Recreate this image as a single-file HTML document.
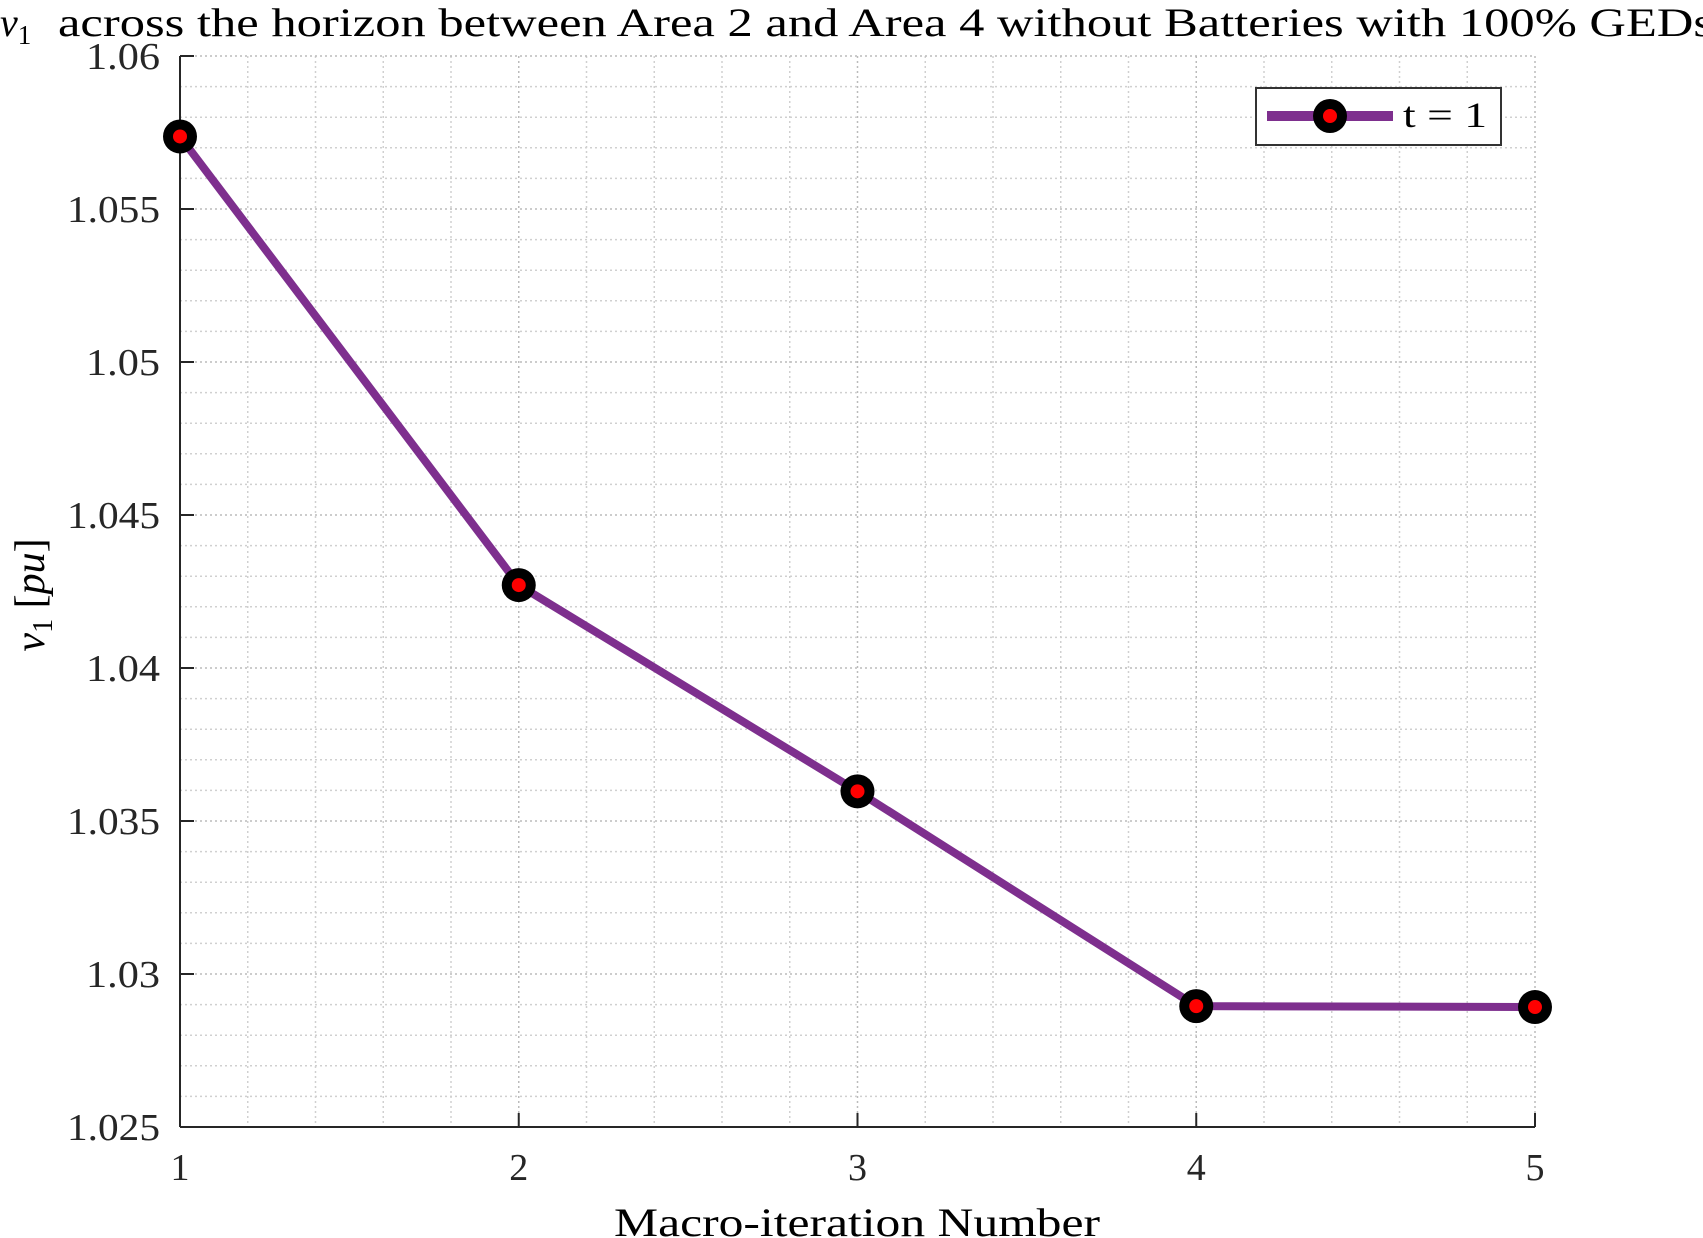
<!DOCTYPE html>
<html><head><meta charset="utf-8"><style>
html,body{margin:0;padding:0;background:#fff}
svg{display:block;font-family:"Liberation Serif",serif}
</style></head><body>
<svg id="chart" width="1703" height="1238" viewBox="0 0 1703 1238" xmlns="http://www.w3.org/2000/svg">
<rect width="1703" height="1238" fill="#fff"/>
<g id="grid"></g>
<g id="axes"></g>
<g id="series"></g>
<text x="0" y="36" font-size="40" fill="#000"><tspan font-style="italic">v</tspan><tspan font-size="27" dy="8">1</tspan><tspan dy="-8" x="58" textLength="1655" lengthAdjust="spacingAndGlyphs">across the horizon between Area 2 and Area 4 without Batteries with 100% GEDs</tspan></text>
<text x="614" y="1236" font-size="40" textLength="486" lengthAdjust="spacingAndGlyphs">Macro-iteration Number</text>
<text transform="translate(44,595) rotate(-90)" font-size="42" text-anchor="middle"><tspan font-style="italic">v</tspan><tspan font-size="28" dy="8">1</tspan><tspan dy="-8"> [</tspan><tspan font-style="italic">pu</tspan><tspan>]</tspan></text>
<g>
<rect x="1256" y="88" width="245" height="57" fill="#fff" stroke="#333" stroke-width="2"/>
<line x1="1267" y1="116" x2="1393" y2="116" stroke="#7E2F8E" stroke-width="10"/>
<circle cx="1330" cy="116" r="17" fill="#000"/>
<circle cx="1330" cy="116" r="7" fill="#f00"/>
<text x="1403" y="127" font-size="36" textLength="84" lengthAdjust="spacingAndGlyphs">t = 1</text>
</g>
</svg>
<script>
const categories=[1,2,3,4,5];
const values=[1.05737,1.04271,1.03597,1.02895,1.02892];
const xTicks=[1,2,3,4,5];
const yTicks=[1.025,1.03,1.035,1.04,1.045,1.05,1.055,1.06];
const yTickLabels=["1.025","1.03","1.035","1.04","1.045","1.05","1.055","1.06"];
const L=180,R=1535,T=56,B=1127,X0=1,X1=5,Y0=1.025,Y1=1.06;
const sx=v=>L+(v-X0)/(X1-X0)*(R-L);
const sy=v=>B-(v-Y0)/(Y1-Y0)*(B-T);
const NS="http://www.w3.org/2000/svg";
function mk(p,t,a){const e=document.createElementNS(NS,t);for(const k in a)e.setAttribute(k,a[k]);p.appendChild(e);return e;}
const grid=document.getElementById('grid'),axes=document.getElementById('axes'),ser=document.getElementById('series');
for(let i=0;i<=20;i++){const v=X0+i*0.2;const x=sx(v);const major=i%5===0;
 const g=mk(grid,'line',{x1:x,x2:x,y1:T,y2:B,stroke:major?'#bbb':'#d0d0d0','stroke-width':1.5,'stroke-dasharray':'2,3'});
 
 }
for(let i=0;i<=35;i++){const v=Y0+i*0.001;const y=sy(v);const major=i%5===0;
 const g=mk(grid,'line',{x1:L,x2:R,y1:y,y2:y,stroke:major?'#bbb':'#d0d0d0','stroke-width':1.5,'stroke-dasharray':'2,3'});
 
 }
const xa=mk(axes,'line',{x1:L,x2:R,y1:B,y2:B,stroke:'#262626','stroke-width':2});


const ya=mk(axes,'line',{x1:L,x2:L,y1:T,y2:B,stroke:'#262626','stroke-width':2});


xTicks.forEach(v=>{const x=sx(v);
 mk(axes,'line',{x1:x,x2:x,y1:B,y2:B-14,stroke:'#262626','stroke-width':2});
 const t=mk(axes,'text',{x:x,y:B+53,'font-size':38,'text-anchor':'middle',fill:'#262626'});t.textContent=v;
 
 });
yTicks.forEach((v,i)=>{const y=sy(v);
 mk(axes,'line',{x1:L,x2:L+14,y1:y,y2:y,stroke:'#262626','stroke-width':2});
 const lbl=yTickLabels[i];
 const w=lbl.length===5?93:74;
 const t=mk(axes,'text',{x:L-20-w,y:y+13,'font-size':38,fill:'#262626',textLength:w,lengthAdjust:'spacingAndGlyphs'});t.textContent=lbl;
 
 });
const pts=categories.map((c,i)=>sx(c)+','+sy(values[i])).join(' ');
const pl=mk(ser,'polyline',{points:pts,fill:'none',stroke:'#7E2F8E','stroke-width':8,'stroke-linejoin':'round'});


categories.forEach((c,i)=>{
 const o=mk(ser,'circle',{cx:sx(c),cy:sy(values[i]),r:17,fill:'#000'});
 
 
 mk(ser,'circle',{cx:sx(c),cy:sy(values[i]),r:7,fill:'#f00'});
});
</script>
</body></html>
